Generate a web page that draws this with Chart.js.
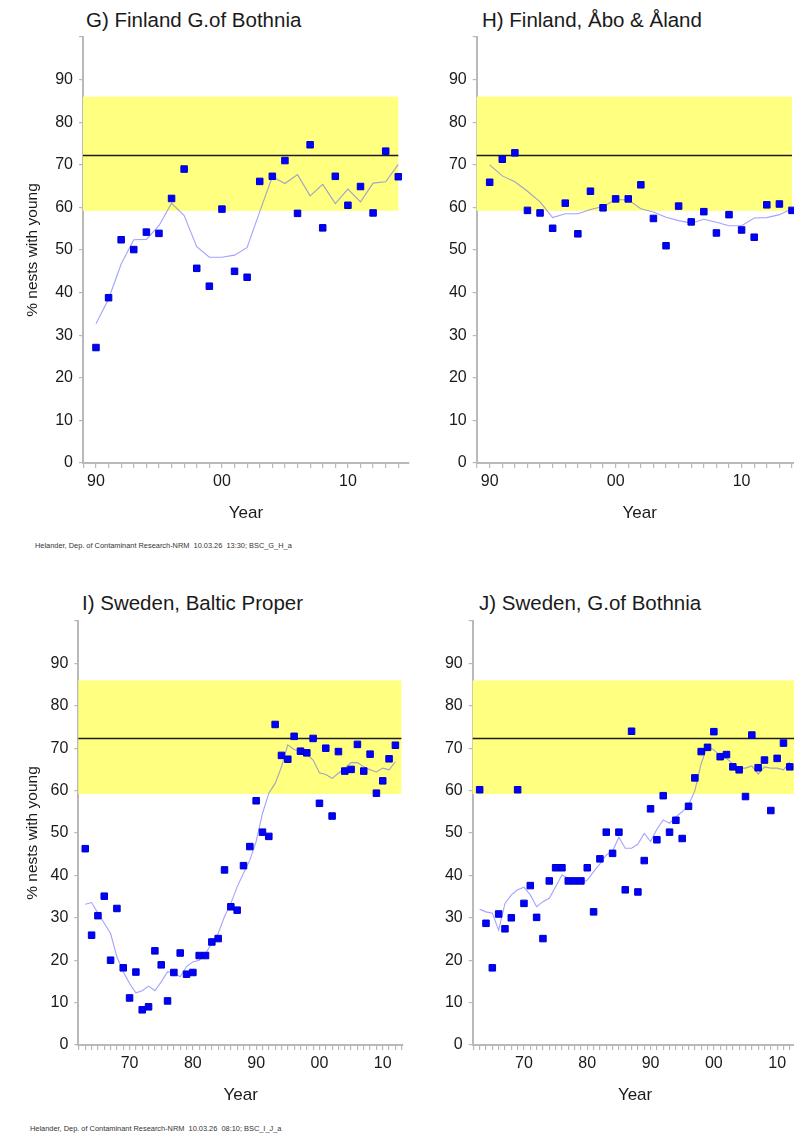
<!DOCTYPE html>
<html>
<head>
<meta charset="utf-8">
<script src="https://cdn.jsdelivr.net/npm/chart.js@4.4.1/dist/chart.umd.min.js"></script>
<style>
  html, body { margin: 0; padding: 0; background: #fff; }
  body { position: relative; width: 794px; height: 1133px; overflow: hidden; font-family: Arial, "Liberation Sans", sans-serif; }
  canvas { position: absolute; }
  .ttl { position: absolute; font-size: 20.5px; line-height: 22px; color: #1a1a1a; white-space: nowrap; }
  .foot { position: absolute; font-size: 7.4px; line-height: 8px; color: #333; white-space: nowrap; }
</style>
</head>
<body>
<div class="ttl" style="left:86px; top:9px">G) Finland G.of Bothnia</div>
<div class="ttl" style="left:482px; top:9px">H) Finland, Åbo &amp; Åland</div>
<div class="ttl" style="left:82px; top:592px">I) Sweden, Baltic Proper</div>
<div class="ttl" style="left:479px; top:592px">J) Sweden, G.of Bothnia</div>
<div class="foot" style="left:35px; top:542px">Helander, Dep. of Contaminant Research-NRM&nbsp;&nbsp;10.03.26&nbsp;&nbsp;13:30; BSC_G_H_a</div>
<div class="foot" style="left:30px; top:1125px">Helander, Dep. of Contaminant Research-NRM&nbsp;&nbsp;10.03.26&nbsp;&nbsp;08:10; BSC_I_J_a</div>

<canvas id="cG" width="420" height="524" style="left:0px; top:0px"></canvas>
<canvas id="cH" width="410" height="524" style="left:400px; top:0px"></canvas>
<canvas id="cI" width="420" height="526" style="left:0px; top:580px"></canvas>
<canvas id="cJ" width="410" height="526" style="left:400px; top:580px"></canvas>

<script>
// years
const finYears = [1990,1991,1992,1993,1994,1995,1996,1997,1998,1999,2000,2001,2002,
  2003,2004,2005,2006,2007,2008,2009,2010,2011,2012,2013,2014];
const sweYears = [1963,1964,1965,1966,1967,1968,1969,1970,1971,1972,
  1973,1974,1975,1976,1977,1978,1979,1980,1981,1982,
  1983,1984,1985,1986,1987,1988,1989,1990,1991,1992,
  1993,1994,1995,1996,1997,1998,1999,2000,2001,2002,
  2003,2004,2005,2006,2007,2008,2009,2010,2011,2012];

// % nests with young, yearly values and smoothed trend
const gObs = [27.1,38.8,52.4,50.1,54.2,53.9,62.1,69.0,45.7,41.5,59.6,45.0,43.6,
  66.1,67.3,71.0,58.6,74.7,55.2,67.3,60.5,64.9,58.7,73.2,67.2];
const gSmooth = [32.7,38.5,46.7,52.4,52.5,55.7,61.0,58.1,50.8,48.3,48.3,48.8,50.6,
  59.0,67.2,65.6,67.7,62.7,65.4,60.9,64.3,61.3,65.7,66.0,70.1];

const hObs = [65.9,71.3,72.8,59.3,58.7,55.1,61.0,53.8,63.8,59.9,62.0,62.0,65.3,
  57.4,51.0,60.3,56.6,59.0,54.0,58.3,54.7,53.0,60.6,60.8,59.3];
const hSmooth = [70.0,67.4,66.0,63.8,61.3,57.6,58.5,58.5,59.5,60.2,61.8,61.8,59.7,
  58.9,57.7,56.9,56.3,57.2,56.5,55.7,55.7,57.5,57.6,58.3,59.7];

const iObs = [46.3,25.9,30.5,35.1,20.0,32.2,18.2,11.1,17.2,8.3,
  9.0,22.2,18.9,10.4,17.1,21.7,16.7,17.1,21.1,21.1,
  24.3,25.1,41.3,32.6,31.8,42.3,46.8,57.6,50.2,49.2,
  75.6,68.3,67.4,72.8,69.3,68.9,72.3,57.0,70.0,54.0,
  69.2,64.6,65.0,70.9,64.6,68.6,59.4,62.3,67.5,70.7];
const iSmooth = [33.2,33.6,31.1,28.7,26.3,20.8,17.3,14.5,12.3,12.8,
  13.9,12.8,14.9,17.3,17.0,16.1,18.5,19.6,20.0,21.6,
  24.0,26.3,30.3,33.4,37.3,40.5,43.6,48.0,54.6,59.4,
  61.7,65.6,70.8,69.7,69.2,68.6,67.2,64.2,63.8,62.9,
  64.1,65.3,66.6,66.6,65.6,64.9,64.4,65.3,64.9,66.8];

const jObs = [60.2,28.7,18.2,30.9,27.4,30.0,60.2,33.4,37.6,30.1,
  25.1,38.7,41.8,41.8,38.7,38.7,38.7,41.8,31.4,43.9,
  50.2,45.2,50.2,36.6,74.0,36.1,43.5,55.7,48.4,58.8,
  50.2,53.0,48.7,56.3,63.0,69.2,70.2,73.9,68.0,68.5,
  65.6,64.9,58.6,73.1,65.4,67.2,55.3,67.6,71.2,65.6];
const jSmooth = [32.0,31.4,31.1,27.1,33.4,35.4,36.6,37.2,35.4,32.6,
  33.8,34.6,37.3,40.1,39.3,38.9,38.1,38.9,40.9,42.7,
  44.8,45.8,49.0,46.4,46.4,47.4,49.9,48.0,50.9,53.1,
  52.3,53.8,55.0,56.6,60.0,66.4,70.5,69.6,68.2,67.6,
  66.3,65.3,65.3,65.8,63.9,65.6,65.3,65.3,64.9,66.8];

// reference range (yellow) and target level (black line)
const bandLow = 59.2, bandHigh = 86.0, targetLevel = 72.3;

const FONT = 'Arial, "Liberation Sans", sans-serif';
const AXIS_GREY = '#b9b9b9';

const bandPlugin = {
  id: 'band',
  beforeDatasetsDraw(chart, args, opts){
    const {ctx, chartArea: a, scales: {x, y}} = chart;
    const xe = Math.min(x.getPixelForValue(opts.end), a.right);
    ctx.save();
    ctx.fillStyle = '#ffff80';
    const yt = y.getPixelForValue(opts.high), yb = y.getPixelForValue(opts.low);
    ctx.fillRect(a.left, yt, xe - a.left, yb - yt);
    const yl = Math.round(y.getPixelForValue(opts.target)) + 0.5;
    ctx.strokeStyle = '#1c1c1c';
    ctx.lineWidth = 1.5;
    ctx.beginPath();
    ctx.moveTo(a.left, yl);
    ctx.lineTo(xe, yl);
    ctx.stroke();
    ctx.restore();
  }
};

function pts(years, vals){
  return years.map((yr, i) => ({x: yr, y: vals[i]}));
}

function panel(id, years, obs, smooth, p){
  new Chart(document.getElementById(id), {
    type: 'scatter',
    data: {
      datasets: [
        { data: pts(years, obs), pointStyle: 'rect', pointRadius: 4.6,
          backgroundColor: '#0000ff', borderColor: '#0000c4', borderWidth: 1 },
        { data: pts(years, smooth), showLine: true, pointRadius: 0,
          borderColor: 'rgba(85,85,255,0.55)', borderWidth: 1.1, tension: 0 }
      ]
    },
    options: {
      responsive: false, animation: false, devicePixelRatio: 1,
      layout: { padding: { top: p.top, right: p.right, left: 0, bottom: 0 } },
      plugins: {
        legend: { display: false }, tooltip: { enabled: false },
        band: { low: bandLow, high: bandHigh, target: targetLevel, end: p.bandEnd }
      },
      scales: {
        x: {
          type: 'linear', min: p.xmin, max: p.xmax,
          border: { color: AXIS_GREY, width: 2 },
          grid: { drawOnChartArea: false, drawTicks: true, tickLength: 5, color: AXIS_GREY, lineWidth: 1.2 },
          ticks: {
            stepSize: 1, includeBounds: false, autoSkip: false, maxRotation: 0, padding: 4,
            color: '#1a1a1a', font: { family: FONT, size: 16 },
            callback: v => (v % 10 === 0) ? String(v % 100).padStart(2, '0') : ''
          },
          title: { display: true, text: 'Year', color: '#1a1a1a', font: { family: FONT, size: 17 }, padding: { top: 0, bottom: 0 } },
          afterFit: s => { s.height = 61; }
        },
        y: {
          min: 0, max: 100,
          border: { color: AXIS_GREY, width: 2 },
          grid: { drawOnChartArea: false, drawTicks: true, tickLength: 4, color: AXIS_GREY, lineWidth: 1.2 },
          ticks: {
            stepSize: 5, padding: 6, color: '#1a1a1a', font: { family: FONT, size: 16 },
            callback: v => (v % 10 === 0 && v < 100) ? v : ''
          },
          title: { display: p.yTitle, text: '% nests with young', color: '#1a1a1a',
            font: { family: FONT, size: 15.5 }, padding: { top: 23.7, bottom: 0 } },
          afterFit: s => { s.width = p.yWidth; }
        }
      }
    },
    plugins: [bandPlugin]
  });
}

panel('cG', finYears, gObs, gSmooth, { top: 37, right: 11, yWidth: 83, xmin: 1988.97, xmax: 2014.85, bandEnd: 2014, yTitle: true });
panel('cH', finYears, hObs, hSmooth, { top: 37, right: 7.3, yWidth: 76.7, xmin: 1988.97, xmax: 2014.85, bandEnd: 2014, yTitle: false });
panel('cI', sweYears, iObs, iSmooth, { top: 41, right: 17, yWidth: 78.3, xmin: 1961.9, xmax: 2013.2, bandEnd: 2012.95, yTitle: true });
panel('cJ', sweYears, jObs, jSmooth, { top: 41, right: 12.6, yWidth: 72.7, xmin: 1961.9, xmax: 2013.2, bandEnd: 2012.95, yTitle: false });
</script>
</body>
</html>
